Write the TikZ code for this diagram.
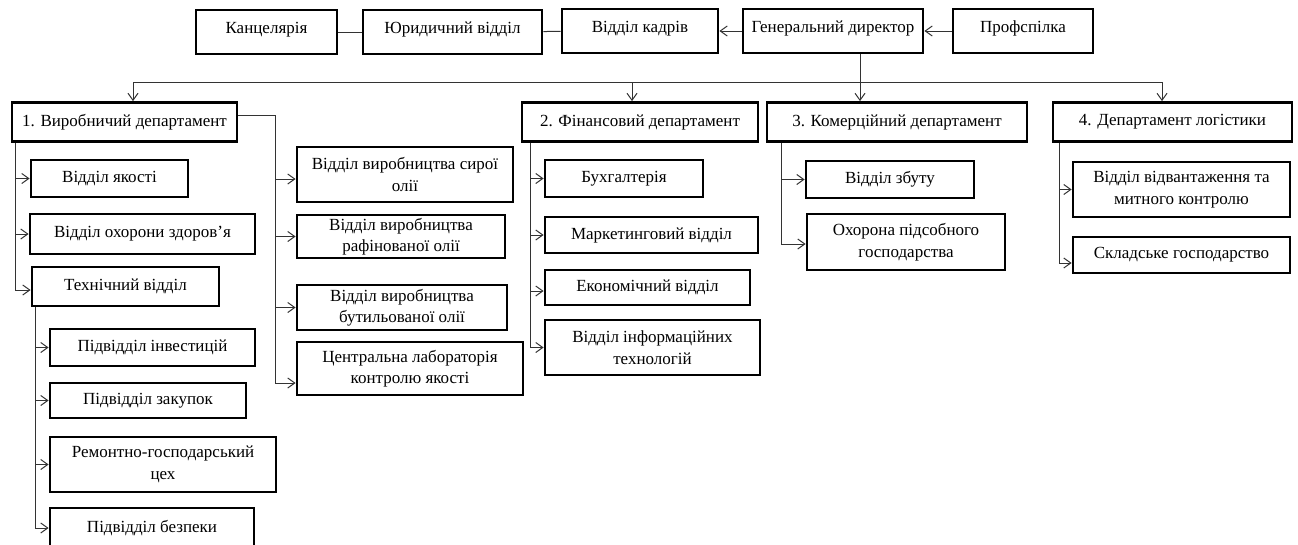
\documentclass[tikz,border=0pt]{standalone}
\usepackage{fontspec}
\setmainfont{Liberation Serif}
\usetikzlibrary{arrows.meta,positioning,calc}

\begin{document}
\begin{tikzpicture}
[x=1pt,y=-1pt,font=\fontsize{17}{21.5}\selectfont,
box/.style = {draw, line width=2.8pt, inner sep=1pt, align=center, text=black},
topbox/.style = {box, inner ysep=0pt, text height=23pt, text depth=21pt},
conn/.style = {draw=black!80, line width=1pt},
arr/.style = {conn, -{Straight Barb[length=7pt,width=10pt,line width=1pt]}},]
\useasboundingbox (0,0) rectangle (1298,544);
\node (kanc) at (266.5,32)[topbox,minimum width=141] {Канцелярія};
\node (jur) at (452.5,32)[topbox,minimum width=179] {Юридичний відділ};
\node (kadr) at (640,31)[topbox,minimum width=156] {Відділ кадрів};
\node (gen) at (833,31)[topbox,minimum width=180] {Генеральний директор};
\node (prof) at (1023,31)[topbox,minimum width=140] {Профспілка};
\node (d1) at (124.5,122)[box,minimum width=225,minimum height=39] {1. Виробничий департамент};
\node (d2) at (640,122)[box,minimum width=236,minimum height=39] {2. Фінансовий департамент};
\node (d3) at (897,122)[box,minimum width=260,minimum height=39] {3. Комерційний департамент};
\node (d4) at (1172.5,122)[box,minimum width=239,minimum height=39] {4. Департамент логістики};
\node (k1) at (109.5,178.5)[box,minimum width=157,minimum height=37] {Відділ якості};
\node (k2) at (142.5,234)[box,minimum width=225,minimum height=40] {Відділ охорони здоров’я};
\node (k3) at (125.5,286.5)[box,minimum width=187,minimum height=39] {Технічний відділ};
\node (t1) at (152.5,347.5)[box,minimum width=205,minimum height=37] {Підвідділ інвестицій};
\node (t2) at (148,400.5)[box,minimum width=196,minimum height=35] {Підвідділ закупок};
\node (t3) at (163,464.5)[box,minimum width=226,minimum height=55] {Ремонтно-господарський\\цех};
\node (t4) at (152,528)[box,minimum width=204,minimum height=40] {Підвідділ безпеки};
\node (c1) at (405,174.5)[box,minimum width=216,minimum height=55] {Відділ виробництва сирої\\олії};
\node (c2) at (401,236.5)[box,minimum width=208,minimum height=43] {Відділ виробництва\\рафінованої олії};
\node (c3) at (402,307.5)[box,minimum width=210,minimum height=45] {Відділ виробництва\\бутильованої олії};
\node (c4) at (410,368.5)[box,minimum width=226,minimum height=53] {Центральна лабораторія\\контролю якості};
\node (f1) at (624,178.5)[box,minimum width=158,minimum height=37] {Бухгалтерія};
\node (f2) at (651.5,235)[box,minimum width=213,minimum height=36] {Маркетинговий відділ};
\node (f3) at (647.5,287.5)[box,minimum width=205,minimum height=35] {Економічний відділ};
\node (f4) at (652.5,347.5)[box,minimum width=215,minimum height=55] {Відділ інформаційних\\технологій};
\node (s1) at (890,179.5)[box,minimum width=168,minimum height=37] {Відділ збуту};
\node (s2) at (906,242)[box,minimum width=198,minimum height=56] {Охорона підсобного\\господарства};
\node (l1) at (1181.5,189.5)[box,minimum width=217,minimum height=55] {Відділ відвантаження та\\митного контролю};
\node (l2) at (1181.5,255)[box,minimum width=217,minimum height=36] {Складське господарство};
\coordinate (bus) at (860,82);
\coordinate (b1) at (133,82);
\coordinate (b2) at (632,82);
\coordinate (b4) at (1162,82);
\coordinate (rbus) at (275,115);
\draw[conn] (kanc)--(jur);
\draw[conn] (jur)--(kadr);
\draw[arr] (gen)--(kadr);
\draw[arr] (prof)--(gen);
\draw[conn] (gen.south -| bus)--(bus);
\draw[conn] (b1)--(b4);
\draw[arr] (b1)--(b1 |- d1.north);
\draw[arr] (b2)--(b2 |- d2.north);
\draw[arr] (bus)--(bus |- d3.north);
\draw[arr] (b4)--(b4 |- d4.north);
\draw[arr] ([xshift=5]d1.south west) |- (k1.west);
\draw[arr] ([xshift=5]d1.south west) |- (k2.west);
\draw[arr] ([xshift=5]d1.south west) |- ([yshift=-3.5]k3.west);
\draw[arr] ([xshift=5]k3.south west) |- (t1.west);
\draw[arr] ([xshift=5]k3.south west) |- (t2.west);
\draw[arr] ([xshift=5]k3.south west) |- (t3.west);
\draw[arr] ([xshift=5]k3.south west) |- (t4.west);
\draw[conn] (d1.east |- rbus)--(rbus);
\draw[arr] (rbus) |- ([yshift=-4.5]c1.west);
\draw[arr] (rbus) |- (c2.west);
\draw[arr] (rbus) |- (c3.west);
\draw[arr] (rbus) |- ([yshift=-14.5]c4.west);
\draw[arr] ([xshift=10]d2.south west) |- (f1.west);
\draw[arr] ([xshift=10]d2.south west) |- (f2.west);
\draw[arr] ([xshift=10]d2.south west) |- ([yshift=-3.5]f3.west);
\draw[arr] ([xshift=10]d2.south west) |- (f4.west);
\draw[arr] ([xshift=16]d3.south west) |- (s1.west);
\draw[arr] ([xshift=16]d3.south west) |- ([yshift=-2]s2.west);
\draw[arr] ([xshift=8]d4.south west) |- (l1.west);
\draw[arr] ([xshift=8]d4.south west) |- ([yshift=-8]l2.west);
\end{tikzpicture}
\end{document}
